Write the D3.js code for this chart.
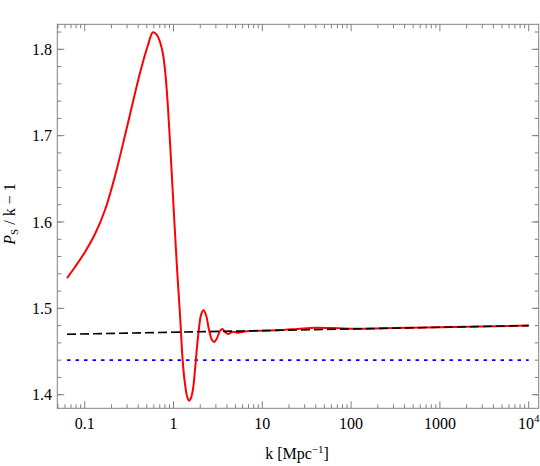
<!DOCTYPE html>
<html>
<head>
<meta charset="utf-8">
<script src="https://cdn.jsdelivr.net/npm/d3@7"></script>
<style>
  html, body { margin: 0; padding: 0; background: #fff; }
  svg { display: block; }
  text { font-family: "Liberation Serif", "DejaVu Serif", serif; fill: #000; }
</style>
</head>
<body>
<svg id="chart" width="540" height="466"></svg>
<script>
// ---- data ----
const redK = [0.0632, 0.0777, 0.1008, 0.1306, 0.1693, 0.2194, 0.2995, 0.4195, 0.5162, 0.5874,
  0.652, 0.7047, 0.7616, 0.8127, 0.867, 0.9372, 1.013, 1.095, 1.184, 1.269, 1.347, 1.419, 1.495,
  1.574, 1.658, 1.746, 1.839, 1.937, 2.04, 2.177, 2.323, 2.512, 2.714, 2.88, 3.09, 3.339, 3.544,
  3.801, 4.142, 4.442, 4.74, 5.19, 6.3, 10, 16, 25, 40, 60, 100, 150, 300, 1000, 10000];
const redP = [1.5351, 1.5479, 1.5653, 1.5861, 1.6139, 1.6533, 1.7100, 1.7726, 1.8050, 1.8197,
  1.8165, 1.8084, 1.7945, 1.7702, 1.7320, 1.6718, 1.6081, 1.5467, 1.4923, 1.4394, 1.4124, 1.3985, 1.3931,
  1.3962, 1.4066, 1.4286, 1.4552, 1.4772, 1.4922, 1.4977, 1.4923, 1.4749, 1.4633, 1.4610, 1.4657, 1.4738, 1.4761,
  1.4726, 1.4703, 1.4720, 1.4730, 1.4718, 1.4732, 1.4742, 1.4748, 1.4762, 1.4776, 1.4772, 1.4764, 1.4765, 1.4771, 1.4781, 1.4800];
const dashK = [0.0632, 10000];
const dashP = [1.470, 1.480];
const dotK = [0.0632, 10000];
const dotP = [1.44, 1.44];
const xTickValues = [0.1, 1, 10, 100, 1000, 10000];
const xTickLabels = ["0.1", "1", "10", "100", "1000", "10^4"];
const yTickValues = [1.4, 1.5, 1.6, 1.7, 1.8];
const yTickLabels = ["1.4", "1.5", "1.6", "1.7", "1.8"];

// ---- layout ----
const L = 57.3, R = 538.7, T = 24.3, B = 408.3;
const svg = d3.select("#chart");
const x = d3.scaleLog().domain([0.04913, 12960]).range([L, R]);
const y = d3.scaleLinear().domain([1.38425, 1.82895]).range([B, T]);
const frameColor = "#808080";

// lines
const line = d3.line().x(d => x(d[0])).y(d => y(d[1])).curve(d3.curveCatmullRom.alpha(0.5));
const g = svg.append("g");
g.append("path").datum(dotK.map((k, i) => [k, dotP[i]])).attr("d", line)
  .attr("fill", "none").attr("stroke", "#0000ff").attr("stroke-width", 1.8).attr("stroke-dasharray", "3.5,5");
g.append("path").datum(redK.map((k, i) => [k, redP[i]])).attr("d", line)
  .attr("fill", "none").attr("stroke", "#ff0000").attr("stroke-width", 2);
g.append("path").datum(dashK.map((k, i) => [k, dashP[i]])).attr("d", line)
  .attr("fill", "none").attr("stroke", "#000").attr("stroke-width", 1.6).attr("stroke-dasharray", "9,4");

// frame
svg.append("rect").attr("x", L).attr("y", T).attr("width", R - L).attr("height", B - T)
  .attr("fill", "none").attr("stroke", frameColor).attr("stroke-width", 1);

// ticks
const tg = svg.append("g").attr("stroke", frameColor).attr("stroke-width", 1);
const xMinor = [];
for (let e = -2; e <= 4; e++) for (let m = 2; m <= 9; m++) {
  const v = m * Math.pow(10, e);
  if (x(v) > L + 0.5 && x(v) < R - 0.5) xMinor.push(v);
}
xMinor.forEach(v => {
  tg.append("line").attr("x1", x(v)).attr("x2", x(v)).attr("y1", B).attr("y2", B - 4);
  tg.append("line").attr("x1", x(v)).attr("x2", x(v)).attr("y1", T).attr("y2", T + 4);
});
xTickValues.forEach(v => {
  tg.append("line").attr("x1", x(v)).attr("x2", x(v)).attr("y1", B).attr("y2", B - 7);
  tg.append("line").attr("x1", x(v)).attr("x2", x(v)).attr("y1", T).attr("y2", T + 7);
});
const yMinor = d3.range(1.38, 1.83, 0.02).filter(v => y(v) < B - 0.5 && y(v) > T + 0.5);
yMinor.forEach(v => {
  tg.append("line").attr("x1", L).attr("x2", L + 4).attr("y1", y(v)).attr("y2", y(v));
  tg.append("line").attr("x1", R).attr("x2", R - 4).attr("y1", y(v)).attr("y2", y(v));
});
yTickValues.forEach(v => {
  tg.append("line").attr("x1", L).attr("x2", L + 7).attr("y1", y(v)).attr("y2", y(v));
  tg.append("line").attr("x1", R).attr("x2", R - 7).attr("y1", y(v)).attr("y2", y(v));
});

// tick labels
const fs = 16;
xTickValues.forEach((v, i) => {
  const lab = xTickLabels[i];
  const t = svg.append("text").attr("x", x(v)).attr("y", 428.5)
    .attr("text-anchor", "middle").attr("font-size", fs);
  if (lab.includes("^")) {
    const [b, p] = lab.split("^");
    t.append("tspan").text(b);
    t.append("tspan").attr("dy", -7).attr("font-size", 11).text(p);
  } else t.text(lab);
});
yTickValues.forEach((v, i) => {
  svg.append("text").attr("x", 52).attr("y", y(v)).attr("dy", "0.35em")
    .attr("text-anchor", "end").attr("font-size", fs).text(yTickLabels[i]);
});

// axis titles
const xt = svg.append("text").attr("x", 297).attr("y", 459).attr("text-anchor", "middle").attr("font-size", fs);
xt.append("tspan").text("k [Mpc");
xt.append("tspan").attr("dy", -6).attr("font-size", 11).text("\u22121");
xt.append("tspan").attr("dy", 6).text("]");

const yt = svg.append("text").attr("transform", "translate(15,214) rotate(-90)")
  .attr("text-anchor", "middle").attr("font-size", fs);
yt.append("tspan").attr("font-style", "italic").text("P");
yt.append("tspan").attr("dy", 3).attr("font-size", 11).text("S");
yt.append("tspan").attr("dy", -3).text(" / k \u2212 1");
</script>
</body>
</html>
